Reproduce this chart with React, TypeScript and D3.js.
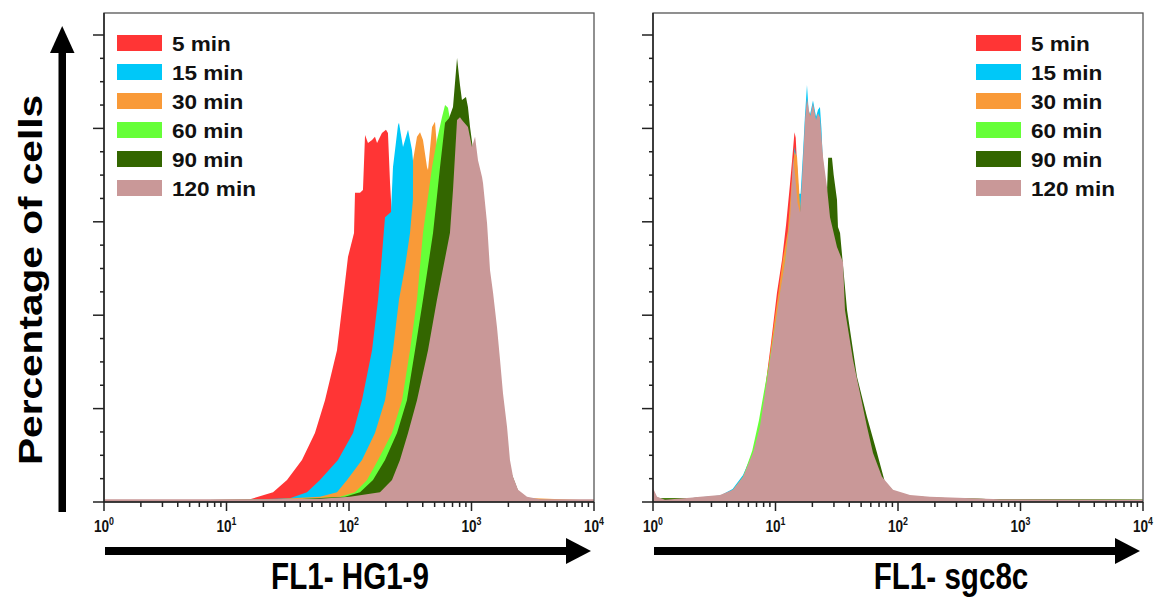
import React from "react";
import * as d3 from "d3";

// ---------- DATA (x = log10 of FL1 intensity, y = percentage of cells, peak-normalised) ----------
const seriesLabels = ["5 min", "15 min", "30 min", "60 min", "90 min", "120 min"];
const seriesColors = ["#FF3535", "#00C8F8", "#F99A38", "#66FF38", "#336600", "#C99898"];
const decadeExponents = [0, 1, 2, 3, 4];

// Left panel: FL1- HG1-9
const hg5: [number, number][] = [[0,0.4],[0.784,0.4],[1.192,0.6],[1.38,2.1],[1.494,4.7],[1.616,9.0],[1.722,14.8],[1.804,21.8],[1.902,32.5],[1.951,43.3],[1.992,52.5],[2.041,57.6],[2.049,66.2],[2.09,66.2],[2.114,66.8],[2.131,78.6],[2.155,76.9],[2.188,77.5],[2.212,78.2],[2.229,76.9],[2.269,79.0],[2.302,79.7],[2.318,79.0],[2.335,68.3],[2.351,61.0],[2.45,50],[2.6,35],[2.8,18],[3.0,5],[3.2,0.5],[4,0.3]];
const hg15: [number, number][] = [[0,0.3],[1.192,0.5],[1.518,0.8],[1.657,2.1],[1.763,4.7],[1.91,9.0],[2.033,14.8],[2.106,21.8],[2.188,32.5],[2.237,43.3],[2.261,50.3],[2.294,61.0],[2.343,62.1],[2.359,71.7],[2.4,80.7],[2.408,81.2],[2.441,76.0],[2.482,79.7],[2.514,75.4],[2.522,73.2],[2.6,60],[2.8,40],[3.0,22],[3.15,6],[3.3,0.5],[4,0.3]];
const hg30: [number, number][] = [[0,0.3],[1.3,0.5],[1.763,1.1],[1.902,2.1],[1.984,4.7],[2.106,9.0],[2.212,14.8],[2.294,21.8],[2.359,32.5],[2.408,43.3],[2.457,50.3],[2.498,57.6],[2.522,64.7],[2.523,73.2],[2.555,78.2],[2.58,79.2],[2.604,77.5],[2.637,71.7],[2.645,71.1],[2.678,80.3],[2.702,81.4],[2.73,72],[2.85,60],[3.0,40],[3.15,15],[3.3,1],[4,0.3]];
const hg60: [number, number][] = [[0,0.3],[1.5,0.5],[1.927,1.1],[2.049,2.1],[2.147,4.7],[2.237,9.0],[2.351,14.8],[2.433,21.8],[2.498,32.5],[2.555,43.3],[2.604,57.6],[2.678,71.7],[2.718,77.5],[2.759,82.4],[2.784,85.0],[2.808,84.4],[2.85,78],[3.0,60],[3.1,45],[3.2,20],[3.3,3],[3.38,0.5],[4,0.3]];
const hg90: [number, number][] = [[0,0.3],[1.5,0.5],[1.967,1.1],[2.09,2.1],[2.196,4.7],[2.294,9.0],[2.392,14.8],[2.473,21.8],[2.539,32.5],[2.604,43.3],[2.686,57.6],[2.743,71.7],[2.784,81.2],[2.816,82.2],[2.849,84.6],[2.882,95.1],[2.906,89.3],[2.922,86.1],[2.955,86.7],[2.971,84.6],[2.988,80.3],[3.02,74],[3.1,60],[3.2,30],[3.3,8],[3.4,1.0],[3.5,0.5],[4,0.3]];
const hg120: [number, number][] = [[0,0.6],[1.192,0.6],[1.763,0.7],[2.008,1.1],[2.253,2.1],[2.351,4.7],[2.416,9.0],[2.482,14.8],[2.555,21.8],[2.645,32.5],[2.718,43.3],[2.824,57.6],[2.849,66.8],[2.882,81.8],[2.906,82.4],[2.922,81.8],[2.971,80.3],[3.004,76.0],[3.029,78.2],[3.053,73.2],[3.086,69.6],[3.094,68.3],[3.127,59.7],[3.151,49.7],[3.176,44.8],[3.208,37.5],[3.233,30.4],[3.257,23.3],[3.29,16.1],[3.314,9.0],[3.339,5.4],[3.38,2.6],[3.453,1.1],[3.559,0.6],[4,0.6]];

// Right panel: FL1- sgc8c
const sg5: [number, number][] = [[0,1.5],[0.05,0.8],[0.3,0.8],[0.55,1.3],[0.653,2.4],[0.735,5.0],[0.816,10.0],[0.873,15.5],[0.914,24.0],[0.963,34.0],[1.012,44.8],[1.053,51.8],[1.086,59.3],[1.118,68.0],[1.135,73.0],[1.155,79.2],[1.165,78.0],[1.18,70],[1.2,60],[1.25,80],[1.3,80],[1.36,78],[1.4,68],[1.45,58],[1.5,52],[1.55,47],[1.6,33],[1.69,21],[1.75,13.5],[1.8,9],[1.87,4.8],[1.96,2.3],[2.1,1.3],[2.3,0.9],[2.8,0.6],[4,0.5]];
const sg15: [number, number][] = [[0,1.2],[0.05,0.8],[0.3,0.8],[0.55,1.4],[0.65,2.8],[0.735,5.8],[0.81,10.3],[0.87,15.5],[0.91,22.5],[0.95,29.5],[0.99,36.5],[1.03,43.5],[1.07,50.5],[1.1,56],[1.135,66],[1.155,76],[1.17,74],[1.19,66],[1.205,66],[1.225,75],[1.24,82.5],[1.257,89.3],[1.27,84],[1.282,83],[1.306,86],[1.331,82.5],[1.347,84],[1.363,84.6],[1.375,80],[1.388,72],[1.42,66],[1.45,60],[1.5,53.5],[1.55,50],[1.57,40],[1.63,29.5],[1.69,22.5],[1.75,15],[1.8,9.5],[1.87,5],[1.96,2.4],[2.1,1.3],[2.3,0.9],[2.8,0.6],[4,0.5]];
const sg30: [number, number][] = [[0,1.2],[0.05,0.8],[0.3,0.8],[0.55,1.3],[0.65,2.5],[0.735,5.3],[0.816,10.4],[0.87,16],[0.91,23],[0.95,30.5],[0.99,38.5],[1.03,46],[1.06,52],[1.1,58],[1.13,68],[1.155,75],[1.176,73.9],[1.19,68],[1.205,61],[1.22,60],[1.24,75],[1.26,84],[1.3,82],[1.36,80],[1.4,70],[1.45,60],[1.5,53],[1.55,48],[1.6,33],[1.69,22],[1.75,14],[1.8,9.5],[1.87,5],[1.96,2.4],[2.1,1.3],[2.3,0.9],[2.8,0.6],[4,0.5]];
const sg60: [number, number][] = [[0,1.2],[0.05,0.8],[0.3,0.7],[0.55,1.3],[0.65,2.4],[0.735,5.4],[0.81,11],[0.865,17.5],[0.905,23.5],[0.95,30],[0.99,36.5],[1.03,43],[1.07,50],[1.13,62],[1.2,62],[1.26,80],[1.33,78],[1.38,72],[1.42,66],[1.5,53],[1.56,45],[1.63,30],[1.69,22.5],[1.75,15.5],[1.8,10],[1.87,5],[1.96,2.4],[2.1,1.3],[2.3,0.9],[2.8,0.6],[4,0.5]];
const sg90: [number, number][] = [[0,1.5],[0.05,0.8],[0.3,0.8],[0.55,1.2],[0.67,2.3],[0.75,5.0],[0.83,10],[0.89,15.5],[0.93,22.5],[0.97,29.5],[1.01,36.5],[1.05,43.5],[1.09,50.5],[1.14,60],[1.2,62],[1.26,75],[1.32,78],[1.37,76],[1.4,70],[1.42,66],[1.43,73.7],[1.461,73.7],[1.475,70],[1.502,64.7],[1.51,58.9],[1.527,57.6],[1.584,41.1],[1.665,26.8],[1.747,18.2],[1.829,10.5],[1.91,2.6],[2.073,1.1],[2.18,0.9],[2.833,0.6],[4,0.5]];
const sg120: [number, number][] = [[0,3.0],[0.033,1.1],[0.098,0.5],[0.302,0.9],[0.384,1.1],[0.547,1.5],[0.653,2.6],[0.735,5.4],[0.816,10.5],[0.873,16.1],[0.914,23.3],[0.955,30.4],[0.996,37.5],[1.037,44.8],[1.08,51.8],[1.12,61],[1.143,73.9],[1.16,70],[1.18,64],[1.2,62],[1.216,69.0],[1.241,81.8],[1.257,86.5],[1.282,82.4],[1.306,85.4],[1.331,81.8],[1.347,83.3],[1.363,82.4],[1.388,73.9],[1.42,67.5],[1.445,61.0],[1.502,54.6],[1.551,51.4],[1.567,41.1],[1.633,30.4],[1.69,23.3],[1.747,16.1],[1.796,10.5],[1.869,5.4],[1.959,2.6],[2.098,1.5],[2.261,1.1],[2.833,0.6],[4,0.5]];

const leftSeries = [hg5, hg15, hg30, hg60, hg90, hg120];
const rightSeries = [sg5, sg15, sg30, sg60, sg90, sg120];

// ---------- LAYOUT ----------
const W = 1158;
const H = 599;
const plotTop = 13;
const y = d3.scaleLinear().domain([0, 100]).range([502, 35]);
const xL = d3.scaleLog().domain([1, 1e4]).range([104, 594]);
const xR = d3.scaleLog().domain([1, 1e4]).range([653, 1143]);

const sans = "'Liberation Sans', Arial, Helvetica, sans-serif";

function Panel({ x, series, legendX, id, label, labelX }: any) {
  const [x0, x1] = x.range();
  const y0 = y(0);
  const area = d3
    .area<[number, number]>()
    .x((d) => x(Math.pow(10, d[0])))
    .y0(y0)
    .y1((d) => y(d[1]))
    .curve(d3.curveLinear);
  const xt: number[] = x.ticks();
  const isMajor = (t: number) => Math.abs(Math.log10(t) - Math.round(Math.log10(t))) < 1e-9;
  const yt: number[] = y.ticks(20);
  return (
    <g>
      <defs>
        <clipPath id={id}>
          <rect x={x0} y={plotTop} width={x1 - x0} height={y0 - plotTop} />
        </clipPath>
      </defs>
      <g clipPath={`url(#${id})`}>
        {series.map((s: [number, number][], i: number) => (
          <path key={i} d={area(s) as string} fill={seriesColors[i]} />
        ))}
      </g>
      <rect x={x0} y={plotTop} width={x1 - x0} height={y0 - plotTop} fill="none" stroke="#555" strokeWidth={1.3} />
      <line x1={x0} x2={x1} y1={y0} y2={y0} stroke="#222" strokeWidth={1.5} />
      <line x1={x0} x2={x0} y1={plotTop} y2={y0} stroke="#222" strokeWidth={1.5} />
      {yt.map((t) => {
        const major = t % 20 === 0;
        return (
          <line key={"y" + t} x1={x0 - (major ? 11 : 4)} x2={x0} y1={y(t)} y2={y(t)} stroke="#222" strokeWidth={1.5} />
        );
      })}
      {xt.map((t) => {
        const major = isMajor(t);
        return (
          <line key={"x" + t} x1={x(t)} x2={x(t)} y1={y0} y2={y0 + (major ? 9 : 5)} stroke="#222" strokeWidth={1.5} />
        );
      })}
      {decadeExponents.map((e) => (
        <text
          key={"l" + e}
          transform={`translate(${x(Math.pow(10, e))},${532}) scale(0.8,1)`}
          textAnchor="middle"
          fontFamily={sans}
          fontWeight="bold"
          fontSize={17}
          fill="#111"
        >
          10<tspan dy={-7} fontSize={11}>{e}</tspan>
        </text>
      ))}
      {/* x arrow */}
      <rect x={x0 + 1} y={547} width={x1 - x0 - 25} height={8} fill="#000" />
      <path d={`M${x1 - 28},${538} L${x1 - 3},${551} L${x1 - 28},${564} Z`} fill="#000" />
      <text
        transform={`translate(${labelX},${589}) scale(0.8,1)`}
        textAnchor="middle"
        fontFamily={sans}
        fontWeight="bold"
        fontSize={37}
        fill="#000"
      >
        {label}
      </text>
      {/* legend */}
      {seriesLabels.map((l, i) => (
        <g key={l}>
          <rect x={legendX} y={35 + i * 29} width={45} height={16} fill={seriesColors[i]} />
          <text
            transform={`translate(${legendX + 55},${51 + i * 29}) scale(1.1,1)`}
            fontFamily={sans}
            fontWeight="bold"
            fontSize={20.5}
            fill="#111"
          >
            {l}
          </text>
        </g>
      ))}
    </g>
  );
}

export default function App() {
  return (
    <svg width={W} height={H} style={{ position: "absolute", left: 0, top: 0, background: "#fff" }}>
      <rect width={W} height={H} fill="#fff" />
      <Panel x={xL} series={leftSeries} legendX={117} id="clipL" label="FL1- HG1-9" labelX={350} />
      <Panel x={xR} series={rightSeries} legendX={976} id="clipR" label="FL1- sgc8c" labelX={951} />
      {/* y arrow */}
      <rect x={58.5} y={50} width={7.5} height={462} fill="#000" />
      <path d="M50,53 L62.2,26 L74.5,53 Z" fill="#000" />
      <text
        transform="translate(42,280) rotate(-90)"
        textAnchor="middle"
        fontFamily={sans}
        fontWeight="bold"
        fontSize={34}
        textLength={370}
        lengthAdjust="spacingAndGlyphs"
        fill="#000"
      >
        Percentage of cells
      </text>
    </svg>
  );
}
